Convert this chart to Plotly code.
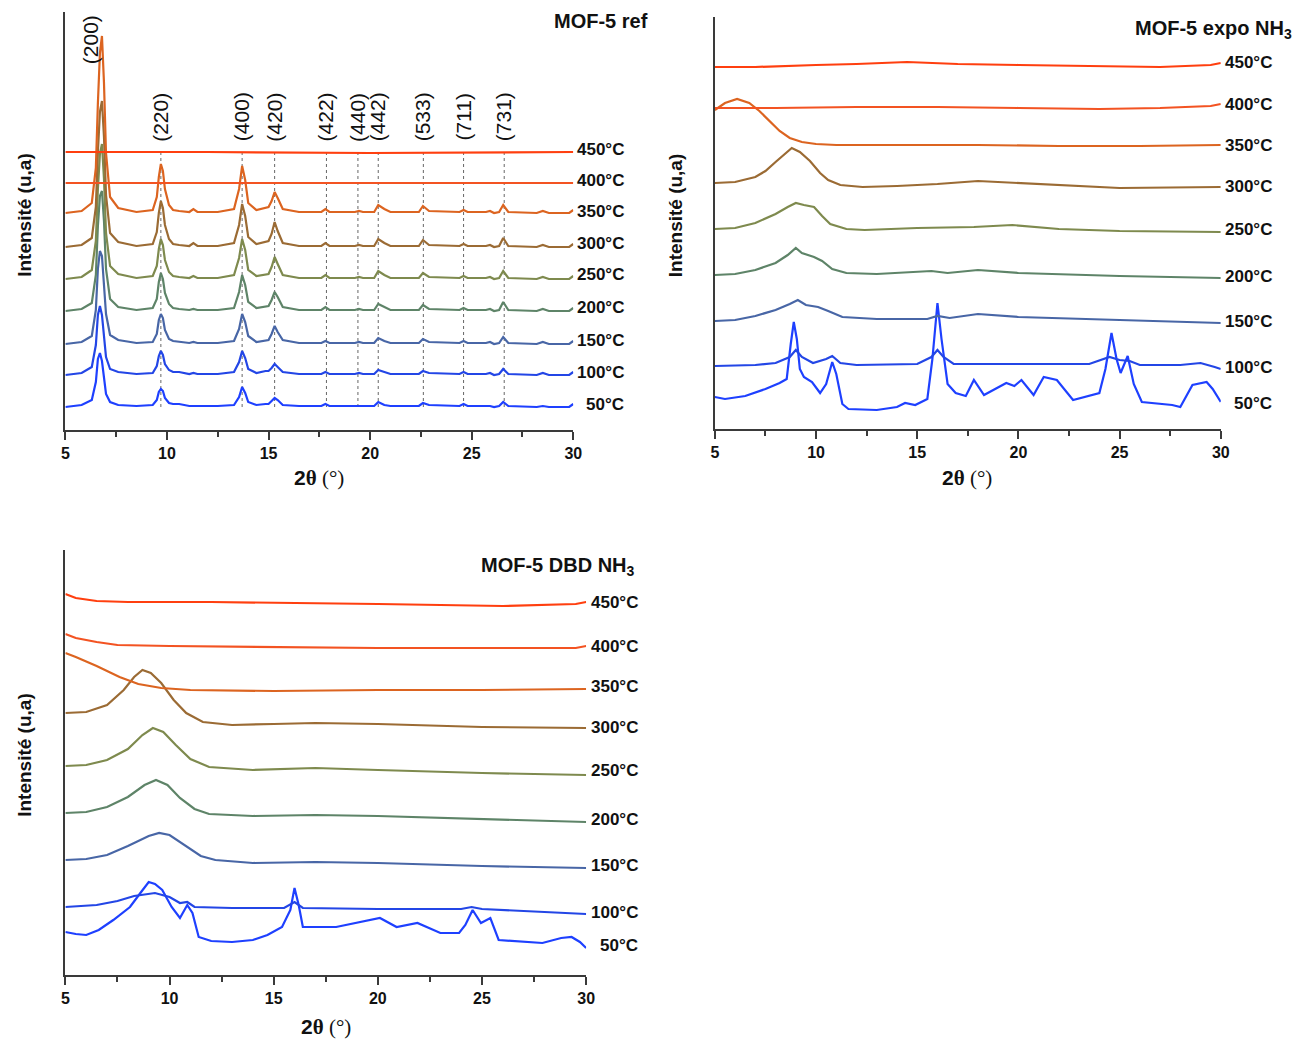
import plotly.graph_objects as go

W, H = 1307, 1041


def fx(p):
    return p / W


def fy(p):
    return 1 - p / H


TEMPS = ["450°C", "400°C", "350°C", "300°C", "250°C", "200°C", "150°C", "100°C", "50°C"]
COLORS = ["#FF3F0F", "#F35322", "#DC6420", "#9B6B34", "#7E8A4E", "#5E8468", "#4866A6", "#2346E6", "#1E40FF"]

# ---------------- Panel 1 : MOF-5 ref (intensity above baseline + stacking offset) ----------------
REF_X = [5.0, 5.8, 6.3, 6.5, 6.6, 6.7, 6.8, 6.9, 7.0, 7.2, 7.6, 8.5,
         9.3, 9.5, 9.6, 9.7, 9.8, 9.9, 10.1, 10.3, 10.6, 11.1, 11.3, 11.5, 12.5,
         13.3, 13.55, 13.7, 13.85, 14.0, 14.4, 14.85, 15.0, 15.15, 15.3, 15.45, 15.7, 16.5,
         17.6, 17.8, 18.0, 19.25, 19.45, 19.65, 20.2, 20.4, 20.7, 21.0,
         22.4, 22.6, 22.9, 24.4, 24.6, 24.8, 25.7, 25.9, 26.1, 26.35, 26.55, 26.8, 28.2, 28.5, 28.8, 29.8, 30.0]

REF_450_X = [5, 12, 20, 30]
REF_450 = [278, 278, 277, 278]
REF_400_X = [5, 12, 20, 30]
REF_400 = [247, 247, 247, 247]

REF_350 = [0, 2, 10, 45, 110, 160, 177, 130, 60, 16, 5, 1,
           3, 16, 36, 49, 42, 24, 8, 3, 2, 1, 4, 1, 1,
           4, 24, 47, 33, 10, 3, 5, 6, 12, 21, 15, 4, 1,
           1, 4, 1, 1, 2, 1, 1, 8, 4, 1,
           1, 7, 2, 1, 3, 1, 1, 2, 0, 1, 8, 1, 0, 2, 0, 0, 3]
REF_300 = [0, 2, 9, 40, 95, 135, 146, 110, 52, 14, 5, 1,
           3, 15, 34, 46, 39, 22, 8, 3, 2, 1, 4, 1, 1,
           4, 22, 43, 31, 10, 3, 5, 6, 13, 25, 16, 4, 1,
           1, 4, 1, 1, 2, 1, 1, 8, 4, 1,
           1, 7, 2, 1, 3, 1, 1, 2, 0, 1, 9, 1, 0, 2, 0, 0, 3]
REF_250 = [0, 2, 9, 38, 90, 125, 135, 100, 46, 13, 5, 1,
           3, 13, 30, 40, 34, 19, 7, 3, 2, 1, 3, 1, 1,
           4, 21, 40, 29, 9, 3, 5, 5, 12, 22, 15, 4, 1,
           1, 4, 1, 1, 2, 1, 1, 8, 4, 1,
           1, 6, 2, 1, 3, 1, 1, 2, 0, 1, 8, 1, 0, 2, 0, 0, 3]
REF_200 = [0, 2, 8, 36, 85, 115, 120, 90, 42, 12, 4, 1,
           3, 12, 29, 38, 32, 18, 7, 3, 2, 1, 2, 1, 1,
           3, 19, 36, 26, 9, 3, 5, 5, 11, 19, 14, 4, 1,
           1, 4, 1, 1, 2, 1, 1, 7, 4, 1,
           1, 6, 2, 1, 3, 1, 1, 2, 0, 1, 9, 1, 0, 2, 0, 0, 3]
REF_150 = [0, 2, 8, 34, 75, 93, 88, 62, 30, 9, 4, 1,
           2, 10, 24, 30, 26, 14, 5, 3, 2, 1, 2, 1, 1,
           3, 15, 30, 22, 8, 2, 4, 4, 10, 18, 12, 4, 1,
           1, 3, 1, 1, 2, 1, 1, 6, 3, 1,
           1, 5, 2, 1, 3, 1, 1, 2, 0, 1, 7, 1, 0, 2, 0, 0, 3]
REF_100 = [0, 2, 8, 30, 60, 69, 60, 38, 18, 6, 3, 1,
           2, 9, 19, 24, 20, 11, 5, 3, 3, 1, 2, 1, 1,
           3, 13, 24, 17, 6, 2, 4, 4, 7, 11, 8, 3, 1,
           1, 3, 1, 1, 2, 1, 1, 5, 3, 1,
           1, 4, 2, 1, 3, 1, 1, 2, 0, 1, 6, 1, 0, 2, 0, 0, 3]
REF_50 = [0, 2, 7, 25, 48, 54, 46, 28, 13, 5, 2, 1,
          2, 7, 15, 18, 16, 9, 4, 3, 3, 1, 1, 1, 1,
          2, 10, 20, 14, 5, 2, 3, 3, 6, 9, 7, 2, 1,
          1, 3, 1, 1, 1, 1, 1, 5, 2, 1,
          1, 4, 2, 1, 3, 1, 1, 1, 0, 1, 5, 1, 0, 1, 0, 0, 3]
REF_OFFSETS = [217, 183, 151, 119, 86, 55, 23]

HKL_LABELS = ["(200)", "(220)", "(400)", "(420)", "(422)", "(440)", "(442)", "(533)", "(711)", "(731)"]
HKL_POS = [6.27, 9.7, 13.7, 15.3, 17.85, 19.4, 20.4, 22.62, 24.6, 26.6]

# ---------------- Panel 2 : MOF-5 expo NH3 ----------------
EXPO_450_X = [5, 7, 10, 12, 14.5, 17, 20, 23, 25, 27, 29.5, 30]
EXPO_450_Y = [362, 362, 364, 365, 367, 365, 364, 363, 362, 362, 364, 366]
EXPO_400_X = [5, 8, 12, 16, 20, 24, 27, 29.5, 30]
EXPO_400_Y = [321, 321, 322, 322, 321, 320, 321, 323, 325]
EXPO_350_X = [5, 5.5, 6.1, 6.7, 7.2, 7.7, 8.2, 8.7, 9.3, 10, 11, 14, 18, 22, 26, 30]
EXPO_350_Y = [319, 326, 330, 326, 318, 308, 298, 291, 287, 285, 284, 284, 284, 283, 283, 284]
EXPO_300_X = [5, 6, 7, 7.5, 8, 8.5, 8.8, 9.2, 9.7, 10.2, 10.6, 11.2, 12.3, 14, 16, 18, 20, 22, 25, 30]
EXPO_300_Y = [246, 247, 252, 258, 267, 276, 281, 277, 268, 256, 249, 244, 242, 243, 245, 248, 246, 244, 241, 242]
EXPO_250_X = [5, 6, 7, 8, 8.6, 9.0, 9.4, 9.9, 10.3, 10.7, 11.5, 12.4, 15, 17.8, 19.7, 22, 25, 30]
EXPO_250_Y = [200, 201, 206, 215, 222, 226, 224, 222, 213, 205, 200, 199, 201, 202, 204, 200, 198, 197]
EXPO_200_X = [5, 6, 7, 8, 8.6, 9.0, 9.3, 9.9, 10.3, 10.8, 11.5, 13, 15.7, 16.5, 18, 20, 25, 30]
EXPO_200_Y = [154, 155, 159, 166, 174, 181, 176, 172, 168, 160, 156, 155, 158, 156, 159, 156, 153, 151]
EXPO_150_X = [5, 6, 7, 8, 8.7, 9.1, 9.5, 10.1, 10.6, 11.3, 13, 15.5, 16, 16.6, 18, 20, 25, 30]
EXPO_150_Y = [108, 109, 113, 119, 125, 129, 124, 122, 118, 112, 110, 110, 113, 111, 115, 112, 109, 106]
EXPO_100_X = [5, 7, 8, 8.7, 9.0, 9.3, 9.85, 10.5, 10.8, 11.2, 12, 15, 15.7, 16.0, 16.3, 16.8, 20, 23.5,
              24.5, 25, 25.5, 26, 28, 29, 29.7, 30]
EXPO_100_Y = [63, 64, 66, 72, 79, 72, 66, 70, 73, 66, 64, 65, 72, 79, 72, 65, 65, 65,
              72, 69, 68, 64, 64, 66, 62, 60]
EXPO_50_X = [5, 5.5, 6.5, 7.5, 8.2, 8.55, 8.75, 8.9, 9.05, 9.2,
             9.4, 9.8, 10.2, 10.5, 10.8, 11.0, 11.3, 11.6, 13, 14,
             14.4, 14.9, 15.5, 15.75, 16.0, 16.2, 16.5, 16.9, 17.4, 17.8,
             18.3, 19.4, 19.8, 20.15, 20.75, 21.25, 21.9, 22.7, 24.0, 24.3,
             24.6, 24.85, 25.05, 25.4, 25.7, 26.1, 27.6, 28.0, 28.6, 29.0,
             29.3, 29.6, 30]
EXPO_50_Y = [32, 30, 33, 40, 46, 50, 85, 107, 90, 60,
             52, 47, 36, 45, 67, 55, 25, 20, 19, 22,
             26, 24, 30, 70, 126, 90, 45, 36, 33, 49,
             34, 46, 43, 49, 34, 52, 49, 29, 36, 60,
             96, 70, 56, 73, 45, 27, 24, 22, 44, 46,
             47, 40, 27]

# ---------------- Panel 3 : MOF-5 DBD NH3 ----------------
DBD_450_X = [5, 5.5, 6.5, 8, 12, 17, 20, 23, 26, 29.5, 30]
DBD_450_Y = [381, 377, 374, 373, 373, 372, 371, 370, 369, 371, 373]
DBD_400_X = [5, 5.5, 6.5, 7.5, 10, 20, 29.5, 30]
DBD_400_Y = [341, 337, 333, 330, 329, 327, 327, 329]
DBD_350_X = [5, 5.5, 6.5, 7.6, 8.5, 9.6, 11, 15, 20, 25, 30]
DBD_350_Y = [322, 318, 309, 298, 291, 287, 285, 284, 285, 285, 286]
DBD_300_X = [5, 6, 7, 7.8, 8.3, 8.7, 9.1, 9.6, 10.2, 10.8, 11.6, 13, 15, 17, 20, 25, 30]
DBD_300_Y = [262, 263, 270, 285, 298, 305, 302, 292, 275, 262, 253, 250, 251, 252, 251, 248, 247]
DBD_250_X = [5, 6, 7, 8, 8.7, 9.2, 9.7, 10.3, 11, 11.9, 14, 17, 20, 25, 30]
DBD_250_Y = [209, 210, 215, 226, 240, 247, 243, 230, 216, 208, 205, 207, 205, 202, 200]
DBD_200_X = [5, 6, 7, 8, 8.8, 9.35, 9.9, 10.5, 11.2, 11.9, 14, 17, 20, 25, 30]
DBD_200_Y = [162, 163, 168, 178, 190, 195, 190, 177, 166, 161, 159, 160, 159, 156, 153]
DBD_150_X = [5, 6, 7, 8, 9, 9.5, 10, 10.7, 11.5, 12.2, 14, 17, 20, 25, 30]
DBD_150_Y = [115, 116, 120, 129, 139, 142, 140, 130, 119, 115, 112, 113, 112, 109, 107]
DBD_100_X = [5, 6.5, 7.5, 8.3, 9.3, 10, 10.5, 10.85, 11.2, 13, 15.5, 16.0, 16.4, 20, 24, 24.5, 25, 30]
DBD_100_Y = [68, 70, 74, 79, 82, 78, 72, 73, 68, 67, 67, 73, 67, 66, 66, 68, 66, 61]
DBD_50_X = [5, 5.5, 6.0, 6.6, 7.3, 8.1, 8.6, 9.0, 9.3, 9.65,
            10.1, 10.5, 10.85, 11.1, 11.4, 12, 13, 14, 14.7, 15.4,
            15.8, 16.0, 16.2, 16.4, 18, 19, 20.1, 20.9, 21.9, 23,
            23.9, 24.2, 24.55, 24.95, 25.4, 25.8, 27, 27.9, 28.8, 29.3,
            29.7, 30]
DBD_50_Y = [43, 41, 40, 45, 55, 68, 82, 93, 91, 85,
            68, 57, 70, 62, 38, 34, 33, 35, 40, 48,
            65, 87, 70, 48, 48, 52, 57, 48, 52, 42,
            42, 50, 65, 52, 57, 35, 33, 32, 37, 38,
            33, 27]

fig = go.Figure()


def add_line(x, y, color, xa, ya):
    fig.add_trace(go.Scatter(x=x, y=y, mode="lines", line=dict(color=color, width=2.2),
                             xaxis=xa, yaxis=ya, showlegend=False, hoverinfo="skip"))


# panel 1 traces (lowest temperature first)
ref_stack = [REF_350, REF_300, REF_250, REF_200, REF_150, REF_100, REF_50]
for i in range(len(ref_stack) - 1, -1, -1):
    vals = [v + REF_OFFSETS[i] for v in ref_stack[i]]
    add_line(REF_X, vals, COLORS[i + 2], "x", "y")
add_line(REF_400_X, REF_400, COLORS[1], "x", "y")
add_line(REF_450_X, REF_450, COLORS[0], "x", "y")

expo = [(EXPO_450_X, EXPO_450_Y), (EXPO_400_X, EXPO_400_Y), (EXPO_350_X, EXPO_350_Y),
        (EXPO_300_X, EXPO_300_Y), (EXPO_250_X, EXPO_250_Y), (EXPO_200_X, EXPO_200_Y),
        (EXPO_150_X, EXPO_150_Y), (EXPO_100_X, EXPO_100_Y), (EXPO_50_X, EXPO_50_Y)]
for i in range(len(expo) - 1, -1, -1):
    add_line(expo[i][0], expo[i][1], COLORS[i], "x2", "y2")

dbd = [(DBD_450_X, DBD_450_Y), (DBD_400_X, DBD_400_Y), (DBD_350_X, DBD_350_Y),
       (DBD_300_X, DBD_300_Y), (DBD_250_X, DBD_250_Y), (DBD_200_X, DBD_200_Y),
       (DBD_150_X, DBD_150_Y), (DBD_100_X, DBD_100_Y), (DBD_50_X, DBD_50_Y)]
for i in range(len(dbd) - 1, -1, -1):
    add_line(dbd[i][0], dbd[i][1], COLORS[i], "x3", "y3")

SANS = "Liberation Sans, Arial, sans-serif"
AX = "#3a3a3a"


def xaxis_style(domain, anchor):
    return dict(domain=domain, anchor=anchor, range=[5, 30], showline=True, linecolor=AX, linewidth=2,
                ticks="outside", ticklen=8, tickwidth=1.5, tickcolor=AX, tick0=5, dtick=5,
                tickfont=dict(family=SANS, size=16, color="#111", weight="bold"),
                showgrid=False, zeroline=False,
                minor=dict(dtick=2.5, tick0=5, ticks="outside", ticklen=5, tickwidth=1.5, tickcolor=AX, showgrid=False))


def yaxis_style(domain, anchor, top):
    return dict(domain=domain, anchor=anchor, range=[0, top], showline=True, linecolor=AX, linewidth=2,
                ticks="", showticklabels=False, showgrid=False, zeroline=False)


shapes = []
for pos in HKL_POS[1:]:
    shapes.append(dict(type="line", xref="x", yref="y", x0=pos, x1=pos, y0=23, y1=278,
                       line=dict(color="#666", width=1, dash="dot"), layer="below"))

ann = []
# hkl labels
for lab, pos in zip(HKL_LABELS, HKL_POS):
    ann.append(dict(x=pos, y=390 if lab == "(200)" else 313, xref="x", yref="y", text=lab, textangle=-90,
                    showarrow=False, font=dict(family=SANS, size=21, color="#111")))

# temperature labels (pixel layout positions)
LAB1_Y = [149, 180, 212, 243, 274, 307, 340, 372, 404]
LAB2_Y = [63, 105, 146, 187, 230, 277, 321, 367, 403]
LAB3_Y = [602, 646, 686, 727, 770, 819, 865, 912, 945]
for labs_y, xr in [(LAB1_Y, 628), (LAB2_Y, 1283), (LAB3_Y, 642)]:
    for t, py in zip(TEMPS, labs_y):
        ann.append(dict(x=fx(xr), y=fy(py), xref="paper", yref="paper", text="<b>%s</b>" % t,
                        xanchor="right", yanchor="middle", showarrow=False,
                        font=dict(family=SANS, size=17, color="#111")))

# panel titles
for txt, xr, py in [("MOF-5 ref", 652, 21), ("MOF-5 expo NH<sub>3</sub>", 1303, 30),
                    ("MOF-5 DBD NH<sub>3</sub>", 639, 566)]:
    ann.append(dict(x=fx(xr), y=fy(py), xref="paper", yref="paper", text="<b>%s</b>" % txt,
                    xanchor="right", yanchor="middle", showarrow=False,
                    font=dict(family=SANS, size=20, color="#111")))

# axis titles
for px, py in [(20, 215), (678, 215), (20, 755)]:
    ann.append(dict(x=fx(px), y=fy(py), xref="paper", yref="paper", text="<b>Intensité (u,a)</b>",
                    textangle=-90, xanchor="center", yanchor="middle", showarrow=False,
                    font=dict(family=SANS, size=19, color="#111")))
xt = "<span style='font-family:Liberation Sans'><b>2</b></span><b>θ</b> (°)"
for px, py in [(318, 478), (973, 478), (325, 1027)]:
    ann.append(dict(x=fx(px), y=fy(py), xref="paper", yref="paper", text=xt,
                    xanchor="center", yanchor="middle", showarrow=False,
                    font=dict(family="Liberation Serif, Times New Roman, serif", size=21, color="#111")))

fig.update_layout(
    width=W, height=H, margin=dict(l=0, r=0, t=0, b=0),
    paper_bgcolor="white", plot_bgcolor="white", showlegend=False,
    xaxis=xaxis_style([fx(62), fx(575)], "y"),
    yaxis=yaxis_style([fy(430), fy(12)], "x", 418),
    xaxis2=xaxis_style([fx(718), fx(1229)], "y2"),
    yaxis2=yaxis_style([fy(429), fy(17)], "x2", 412),
    xaxis3=xaxis_style([fx(62), fx(588)], "y3"),
    yaxis3=yaxis_style([fy(975), fy(550)], "x3", 425),
    shapes=shapes, annotations=ann,
)

fig.write_html("out.html", config={"displayModeBar": False},
               post_script="document.body.style.margin='0';")
